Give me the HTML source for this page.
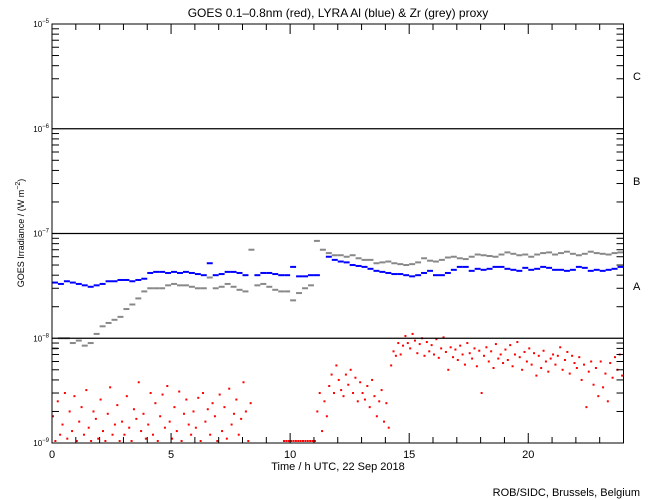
<!DOCTYPE html>
<html><head><meta charset="utf-8">
<style>
html,body{margin:0;padding:0;background:#fff;}
svg{display:block;font-family:"Liberation Sans",sans-serif;}
</style></head>
<body>
<svg id="chart" width="650" height="500" viewBox="0 0 650 500" xmlns="http://www.w3.org/2000/svg">
<rect x="0" y="0" width="650" height="500" fill="#fff"/>
<text x="338" y="17" font-size="12" text-anchor="middle">GOES 0.1–0.8nm (red), LYRA Al (blue) &amp; Zr (grey) proxy</text>
<g id="marks"></g>
<g id="axes"></g>
<text x="338" y="470" font-size="11" text-anchor="middle">Time / h UTC, 22 Sep 2018</text>
<text transform="translate(24,233) rotate(-90)" font-size="9" text-anchor="middle">GOES Irradiance / (W m<tspan dy="-4" font-size="7">−2</tspan><tspan dy="4">)</tspan></text>
<text x="633" y="80" font-size="11">C</text>
<text x="633" y="185" font-size="11">B</text>
<text x="633" y="290" font-size="11">A</text>
<text x="640" y="496" font-size="11" text-anchor="end">ROB/SIDC, Brussels, Belgium</text>
</svg>
<script>
// Data (blue & grey in 1e-8 W/m2 at 0.25 h steps; red in 1e-9 W/m2 at 0.1 h steps)
const blueVals=[3.4,3.3,3.5,3.4,3.3,3.2,3.1,3.2, 3.3,3.5,3.5,3.6,3.6,3.5,3.6,3.7, 4.2,4.3,4.3,4.2,4.3,4.2,4.3,4.2, 4.1,4.0,5.2,4.0,4.1,4.3,4.3,4.2, 4.0,null,4.0,4.2,4.2,4.1,4.0,4.0, 4.8,3.9,3.9,4.0,4.0,null,6.0,5.6, 5.4,5.3,5.0,4.9,4.8,4.6,4.4,4.3, 4.2,4.1,4.1,4.0,3.9,4.0,4.2,4.4, 4.0,4.0,4.2,4.5,4.8,4.8,4.4,4.6, 4.5,4.6,4.8,4.8,4.6,4.5,4.4,4.7, 4.5,4.6,4.8,4.7,4.5,4.5,4.4,4.5, 4.8,4.7,4.4,4.5,4.4,4.5,4.6,4.8];
const greyVals=[0.8,1.0,1.0,0.9,0.95,0.85,0.9,1.1, 1.3,1.4,1.5,1.6,1.9,2.1,2.4,2.8, 3.0,3.0,3.0,3.2,3.3,3.2,3.2,3.1, 3.0,3.0,3.8,3.0,3.1,3.3,3.1,2.9, 2.8,7.0,3.2,3.3,3.1,2.9,2.8,2.8, 2.3,2.7,3.0,3.2,8.5,7.0,6.5,6.2, 6.2,6.0,6.2,5.8,5.6,5.6,5.2,5.3, 5.4,5.2,5.1,5.0,5.1,5.3,5.8,5.5, 5.4,5.6,5.9,6.0,5.8,5.7,6.0,6.3, 6.2,6.1,6.0,6.3,6.6,6.4,6.2,6.3, 6.0,6.3,6.5,6.6,6.3,6.5,6.7,6.4, 6.2,6.4,6.7,6.5,6.4,6.3,6.5,6.6];
const redVals=[1.8,1.0,2.5,1.2,1.5,3.0,1.1,2.0,1.3,2.8,
1.0,1.6,2.2,1.2,3.2,1.4,1.0,2.0,1.7,1.1,
2.6,1.3,1.0,1.9,3.4,1.2,1.5,2.3,1.0,1.6,
1.2,2.8,1.4,1.0,2.1,1.7,3.8,1.3,1.9,1.1,
1.5,3.0,1.2,2.4,1.0,1.8,2.9,1.4,3.5,1.6,
1.1,2.2,1.3,3.1,1.0,1.9,2.6,1.5,1.2,2.0,
1.4,2.7,1.0,3.0,1.6,2.1,1.2,2.4,1.8,1.0,
2.9,1.3,2.2,1.1,3.3,1.5,1.9,2.6,1.2,1.7,
3.8,2.0,1.0,2.4,null,null,null,null,null,null,
null,null,null,null,null,null,null,1.0,1.0,1.0,
1.0,1.0,1.0,1.0,1.0,1.0,1.0,1.0,1.0,1.0,
1.0,2.0,3.0,1.3,2.5,1.8,3.5,4.5,3.0,5.5,
4.0,3.2,2.8,4.5,3.6,5.0,3.0,4.2,2.5,3.8,
3.0,2.6,3.5,2.2,4.0,2.8,1.8,2.5,3.2,1.6,
2.4,1.4,5.5,7.5,6.8,9.0,7.0,8.5,10.5,9.0,
8.0,11.0,9.5,7.2,8.8,10.0,6.8,9.2,7.5,8.6,
7.0,9.8,6.5,8.0,10.2,7.4,5.0,8.2,6.6,7.8,
6.2,8.5,7.0,5.6,9.0,7.2,6.4,8.0,5.4,7.6,
3.0,6.8,8.2,6.0,7.5,5.2,8.8,6.4,7.0,5.8,
7.8,6.2,8.6,5.4,7.0,9.2,6.6,5.0,7.4,6.0,
8.0,5.6,7.2,4.4,6.8,5.2,7.6,6.0,4.8,6.4,
7.0,5.6,6.8,8.2,5.0,6.2,7.4,4.6,6.8,5.8,
5.2,6.6,4.0,5.6,2.2,4.8,6.0,3.6,5.2,2.8,
6.0,3.4,4.6,2.5,5.8,4.2,6.6,5.0,7.0,4.4];
const xTicks=[0,5,10,15,20];
const yExps=[-5,-6,-7,-8,-9];

const NS="http://www.w3.org/2000/svg";
const X0=52,X1=623.5,Y0=24,Y1=443;
function xs(h){return X0+(X1-X0)*h/24;}
function ys(v){return Y1-(Math.log10(v)+9)*(Y1-Y0)/4;}
function mk(tag,attrs,parent){const e=document.createElementNS(NS,tag);for(const k in attrs)e.setAttribute(k,attrs[k]);parent.appendChild(e);return e;}
const marks=document.getElementById('marks'),axes=document.getElementById('axes');

function drawBand(vals,scale,step,color,name){
  vals.forEach((v,i)=>{
    if(v===null)return;
    const y=Math.min(Y1-1,ys(v*scale));
    const r=mk('rect',{x:xs(i*step),y:y-1,width:(X1-X0)*step/24,height:2,fill:color},marks);
    
    
  });
}
drawBand(greyVals,1e-8,0.25,'#888','zr-proxy-point');
drawBand(blueVals,1e-8,0.25,'#0000ff','al-proxy-point');
redVals.forEach((v,i)=>{
  if(v===null)return;
  const y=Math.min(Y1-2,ys(v*1e-9));
  const r=mk('rect',{x:xs(i*0.1),y:y-1,width:2,height:2,fill:'#ff0000'},marks);
  
  
});

// frame
const fr=mk('rect',{x:X0,y:Y0,width:X1-X0,height:Y1-Y0,fill:'none',stroke:'#000','stroke-width':1},axes);


// decade lines & labels
yExps.forEach(e=>{
  const y=ys(Math.pow(10,e));
  if(e>-9&&e<-5){const l=mk('line',{x1:X0,x2:X1,y1:y,y2:y,stroke:'#000','stroke-width':1.2},axes);
    
    }
  const t=mk('text',{x:X0-3,y:y+3,'font-size':8,'text-anchor':'end'},axes);
  
  
  t.innerHTML='10<tspan dy="-4" font-size="6">'+(e+'').replace('-','−')+'</tspan>';
  // minor ticks
  if(e>-9){for(let m=2;m<=9;m++){const ym=ys(m*Math.pow(10,e-1));
    mk('line',{x1:X0,x2:X0+7,y1:ym,y2:ym,stroke:'#000'},axes);
    mk('line',{x1:X1-7,x2:X1,y1:ym,y2:ym,stroke:'#000'},axes);}}
});
// x ticks
for(let h=1;h<24;h++){const x=xs(h),len=(h%5===0)?10:6;
  mk('line',{x1:x,x2:x,y1:Y1,y2:Y1-len,stroke:'#000'},axes);
  mk('line',{x1:x,x2:x,y1:Y0,y2:Y0+len,stroke:'#000'},axes);}
xTicks.forEach(h=>{
  const t=mk('text',{x:xs(h),y:Y1+15,'font-size':11,'text-anchor':'middle'},axes);
  
  
  t.textContent=h;
});
</script>
</body></html>
